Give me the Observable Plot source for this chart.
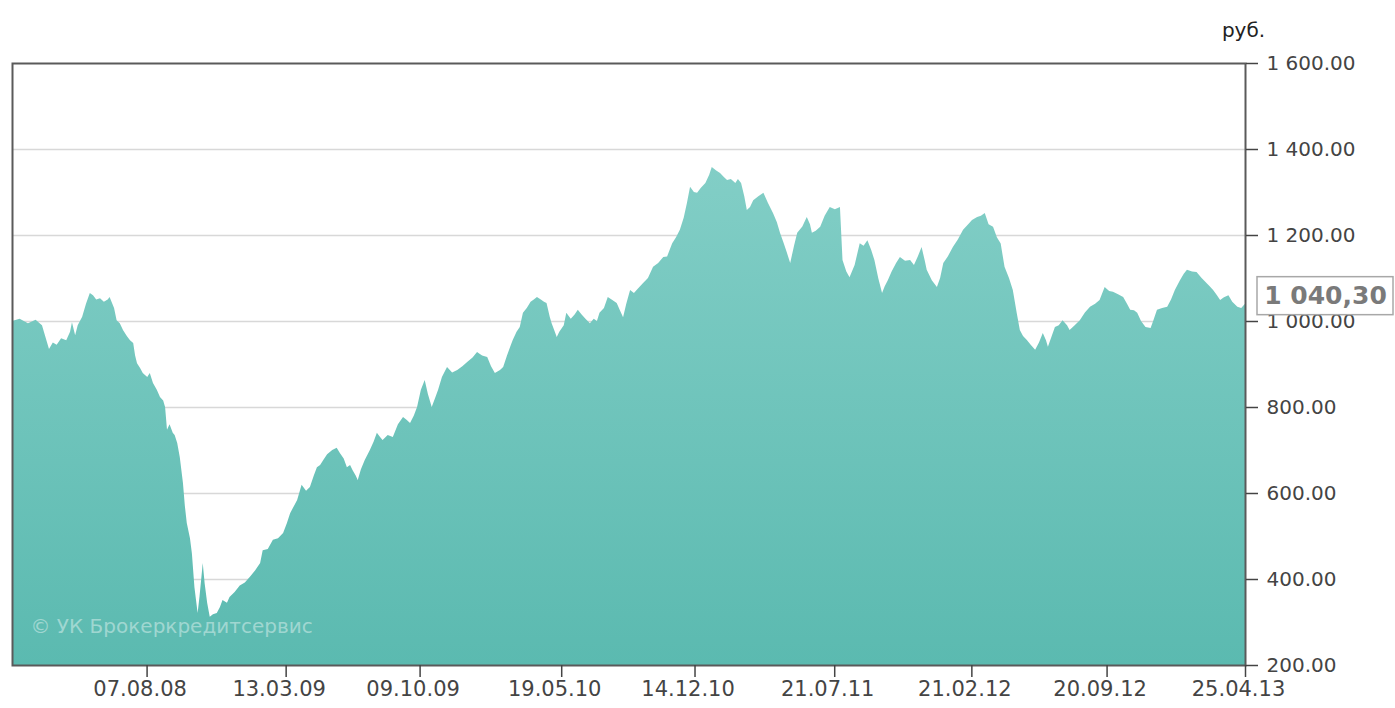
<!DOCTYPE html>
<html>
<head>
<meta charset="utf-8">
<script src="https://cdn.jsdelivr.net/npm/d3@7"></script>
<script src="https://cdn.jsdelivr.net/npm/@observablehq/plot@0.6"></script>
<style>
  html, body { margin: 0; padding: 0; background: #fff; }
  #chart { width: 1395px; height: 708px; overflow: hidden; }
</style>
</head>
<body>
<div id="chart"></div>
<script>
const dates = [
"2008-01-09","2008-01-21","2008-02-03","2008-02-15","2008-02-25","2008-03-02","2008-03-07","2008-03-13","2008-03-19","2008-03-26",
"2008-04-03","2008-04-09","2008-04-12","2008-04-17","2008-04-21","2008-04-28","2008-05-04","2008-05-10","2008-05-15","2008-05-20",
"2008-05-26","2008-06-01","2008-06-07","2008-06-10","2008-06-17","2008-06-21","2008-06-26","2008-07-01","2008-07-07","2008-07-12",
"2008-07-17","2008-07-20","2008-07-23","2008-07-28","2008-08-01","2008-08-08","2008-08-12","2008-08-17","2008-08-23","2008-08-28",
"2008-09-02","2008-09-05","2008-09-08","2008-09-12","2008-09-17","2008-09-20","2008-09-24","2008-09-28","2008-10-03","2008-10-06",
"2008-10-09","2008-10-14","2008-10-17","2008-10-21","2008-10-26","2008-10-29","2008-11-02","2008-11-03","2008-11-06","2008-11-10",
"2008-11-14","2008-11-19","2008-11-25","2008-11-30","2008-12-04","2008-12-11","2008-12-15","2008-12-23","2008-12-31","2009-01-08",
"2009-01-16","2009-01-24","2009-02-01","2009-02-05","2009-02-13","2009-02-21","2009-03-01","2009-03-09","2009-03-15","2009-03-20",
"2009-03-26","2009-03-31","2009-04-07","2009-04-14","2009-04-20","2009-04-26","2009-05-01","2009-05-06","2009-05-11","2009-05-17",
"2009-05-25","2009-06-01","2009-06-06","2009-06-12","2009-06-17","2009-06-22","2009-06-26","2009-07-01","2009-07-04","2009-07-09",
"2009-07-15","2009-07-23","2009-07-29","2009-08-03","2009-08-08","2009-08-12","2009-08-20","2009-08-28","2009-09-05","2009-09-13",
"2009-09-19","2009-09-24","2009-09-30","2009-10-05","2009-10-11","2009-10-17","2009-10-22","2009-10-28","2009-11-02","2009-11-07",
"2009-11-13","2009-11-21","2009-11-29","2009-12-07","2009-12-15","2009-12-23","2009-12-31","2010-01-07","2010-01-15","2010-01-23",
"2010-01-29","2010-02-04","2010-02-12","2010-02-17","2010-02-23","2010-02-28","2010-03-04","2010-03-10","2010-03-15","2010-03-20",
"2010-03-26","2010-04-01","2010-04-06","2010-04-11","2010-04-17","2010-04-22","2010-04-26","2010-05-01","2010-05-04","2010-05-09",
"2010-05-12","2010-05-16","2010-05-23","2010-05-27","2010-06-03","2010-06-09","2010-06-14","2010-06-20","2010-06-26","2010-07-03",
"2010-07-09","2010-07-14","2010-07-18","2010-07-25","2010-07-31","2010-08-06","2010-08-14","2010-08-19","2010-08-24","2010-08-29",
"2010-09-04","2010-09-10","2010-09-16","2010-09-24","2010-10-02","2010-10-10","2010-10-18","2010-10-26","2010-11-01","2010-11-09",
"2010-11-15","2010-11-21","2010-11-27","2010-12-02","2010-12-07","2010-12-13","2010-12-18","2010-12-24","2010-12-31","2011-01-06",
"2011-01-10","2011-01-17","2011-01-23","2011-01-29","2011-02-03","2011-02-09","2011-02-16","2011-02-20","2011-02-25","2011-03-02",
"2011-03-06","2011-03-11","2011-03-16","2011-03-24","2011-04-01","2011-04-08","2011-04-16","2011-04-22","2011-04-27","2011-05-03",
"2011-05-08","2011-05-13","2011-05-19","2011-05-24","2011-06-01","2011-06-08","2011-06-13","2011-06-16","2011-06-22","2011-06-29",
"2011-07-06","2011-07-14","2011-07-22","2011-07-30","2011-08-03","2011-08-09","2011-08-14","2011-08-22","2011-08-30","2011-09-05",
"2011-09-11","2011-09-17","2011-09-22","2011-09-28","2011-10-04","2011-10-08","2011-10-13","2011-10-19","2011-10-26","2011-11-01",
"2011-11-09","2011-11-17","2011-11-23","2011-11-29","2011-12-05","2011-12-10","2011-12-13","2011-12-21","2011-12-29","2012-01-03",
"2012-01-08","2012-01-15","2012-01-23","2012-01-31","2012-02-08","2012-02-16","2012-02-22","2012-03-01","2012-03-07","2012-03-13",
"2012-03-19","2012-03-26","2012-04-01","2012-04-07","2012-04-13","2012-04-20","2012-04-26","2012-05-02","2012-05-07","2012-05-12",
"2012-05-18","2012-05-24","2012-05-31","2012-06-06","2012-06-12","2012-06-17","2012-06-20","2012-06-26","2012-07-01","2012-07-07",
"2012-07-13","2012-07-20","2012-07-24","2012-08-01","2012-08-09","2012-08-17","2012-08-25","2012-09-02","2012-09-09","2012-09-17",
"2012-09-24","2012-09-30","2012-10-08","2012-10-16","2012-10-22","2012-10-27","2012-11-02","2012-11-07","2012-11-13","2012-11-20",
"2012-11-28","2012-12-02","2012-12-08","2012-12-16","2012-12-24","2012-12-30","2013-01-05","2013-01-13","2013-01-19","2013-01-24",
"2013-02-01","2013-02-08","2013-02-16","2013-02-24","2013-03-01","2013-03-06","2013-03-12","2013-03-17","2013-03-23","2013-03-30",
"2013-04-05","2013-04-13","2013-04-19","2013-04-25"
];
const values = [
1000,1005,995,1003,990,960,935,950,945,960,
955,975,997,967,990,1010,1040,1065,1060,1050,
1053,1045,1050,1056,1030,1002,995,979,965,955,
949,920,902,890,879,870,879,856,840,823,
815,800,747,760,740,735,716,684,623,570,
530,495,460,381,321,360,421,437,390,344,
312,318,321,335,351,345,358,370,385,392,
405,420,437,467,470,491,495,507,530,553,
570,584,619,605,614,640,660,665,677,690,
700,705,693,680,660,665,653,640,630,655,
677,700,720,740,730,723,735,730,760,777,
770,763,780,800,840,863,830,800,820,840,
870,893,880,886,895,905,915,928,920,916,
895,879,886,893,920,940,956,975,986,1019,
1030,1045,1050,1056,1050,1045,1042,1010,995,975,
963,975,990,1019,1005,1015,1026,1015,1005,995,
1005,1000,1019,1030,1056,1050,1042,1025,1009,1040,
1072,1065,1075,1088,1100,1126,1135,1149,1150,1181,
1195,1212,1240,1274,1312,1300,1298,1310,1321,1340,
1358,1350,1344,1335,1328,1330,1321,1330,1321,1290,
1258,1265,1281,1290,1298,1275,1251,1230,1205,1180,
1158,1135,1175,1205,1220,1242,1225,1205,1210,1219,
1245,1265,1260,1265,1142,1115,1102,1130,1181,1175,
1188,1165,1142,1100,1065,1080,1095,1115,1135,1149,
1140,1142,1130,1150,1172,1140,1119,1095,1079,1100,
1135,1150,1172,1190,1212,1225,1235,1242,1245,1251,
1225,1219,1195,1180,1126,1100,1072,1020,979,965,
956,945,933,950,972,955,940,965,986,990,
1002,990,979,990,1002,1020,1033,1040,1049,1079,
1070,1068,1062,1056,1040,1026,1025,1019,1000,986,
984,1000,1026,1030,1033,1050,1072,1095,1110,1119,
1115,1114,1100,1088,1080,1072,1060,1049,1055,1060,
1045,1033,1030,1040.3
];
const xDomain = ["2008-01-09", "2013-04-25"];
const xTickDates = ["2008-08-07","2009-03-13","2009-10-09","2010-05-19","2010-12-14","2011-07-21","2012-02-21","2012-09-20","2013-04-25"];
const yDomain = [200, 1600];
const yTicks = [200, 400, 600, 800, 1000, 1200, 1400, 1600];
const yGrid = [400, 600, 800, 1000, 1200, 1400];
const unitLabel = "руб.";
const watermark = "© УК Брокеркредитсервис";
const lastLabel = "1 040,30";

const parse = d3.utcParse("%Y-%m-%d");
const data = dates.map((d, i) => ({date: parse(d), value: values[i]}));
const last = data[data.length - 1];
const xTicks = xTickDates.map(parse);
const fmtNum = d3.formatLocale({decimal: ".", thousands: "\u00a0", grouping: [3], currency: ["", ""]}).format(",.2f");
const fmtDate = d3.utcFormat("%d.%m.%y");

const ns = "http://www.w3.org/2000/svg";
function gradientDefs() {
  const defs = document.createElementNS(ns, "defs");
  const lg = document.createElementNS(ns, "linearGradient");
  lg.setAttribute("id", "areaGrad");
  lg.setAttribute("x1", "0"); lg.setAttribute("y1", "0");
  lg.setAttribute("x2", "0"); lg.setAttribute("y2", "1");
  [["0%", "#82cec6"], ["100%", "#5bbab0"]].forEach(([o, c]) => {
    const s = document.createElementNS(ns, "stop");
    s.setAttribute("offset", o); s.setAttribute("stop-color", c);
    lg.appendChild(s);
  });
  defs.appendChild(lg);
  return defs;
}
function valueBox(index, scales) {
  const g = document.createElementNS(ns, "g");
  const px = scales.x(last.date), py = scales.y(last.value);
  const r = document.createElementNS(ns, "rect");
  r.setAttribute("x", px + 12);
  r.setAttribute("y", py - 27);
  r.setAttribute("width", 136);
  r.setAttribute("height", 38);
  r.setAttribute("fill", "#fff");
  r.setAttribute("stroke", "#a8a8a8");
  r.setAttribute("stroke-width", 1.5);
  g.appendChild(r);
  return g;
}

const chart = Plot.plot({
  width: 1395,
  height: 708,
  marginLeft: 12,
  marginRight: 150,
  marginTop: 63,
  marginBottom: 43,
  style: {fontFamily: "'DejaVu Sans', Verdana, sans-serif", fontSize: "20px", color: "#444", background: "#fff"},
  x: {type: "utc", domain: xDomain.map(parse)},
  y: {domain: yDomain},
  marks: [
    gradientDefs,
    Plot.gridY(yGrid, {stroke: "#d8d8d8", strokeOpacity: 1, strokeWidth: 1.3}),
    Plot.areaY(data, {x: "date", y1: yDomain[0], y2: "value", fill: "url(#areaGrad)", curve: "linear"}),
    Plot.text([watermark], {frameAnchor: "bottom-left", dx: 18, dy: -33, textAnchor: "start", fill: "#fff", fillOpacity: 0.42, fontSize: 20}),
    Plot.frame({stroke: "#5a5a5a", strokeWidth: 2}),
    Plot.axisY({anchor: "right", ticks: yTicks, tickSize: 12, tickPadding: 9, tickFormat: fmtNum, fontSize: 20, label: null, strokeWidth: 1.5}),
    Plot.axisX({ticks: xTicks, tickSize: 12, tickFormat: () => "", label: null, strokeWidth: 1.5}),
    Plot.text(xTicks, {x: d => d, frameAnchor: "bottom", dy: 30, dx: -7, text: d => fmtDate(d), fontSize: 21, fill: "#444"}),
    Plot.text([unitLabel], {frameAnchor: "top-right", textAnchor: "middle", lineAnchor: "middle", dx: -2, dy: -33, fontSize: 20, fill: "#222"}),
    valueBox,
    Plot.text([last], {x: "date", y: "value", dx: 80, dy: -8, text: () => lastLabel, fontSize: 25, fontWeight: "bold", fill: "#7a7a7a"})
  ]
});
document.getElementById("chart").appendChild(chart);
</script>
</body>
</html>
